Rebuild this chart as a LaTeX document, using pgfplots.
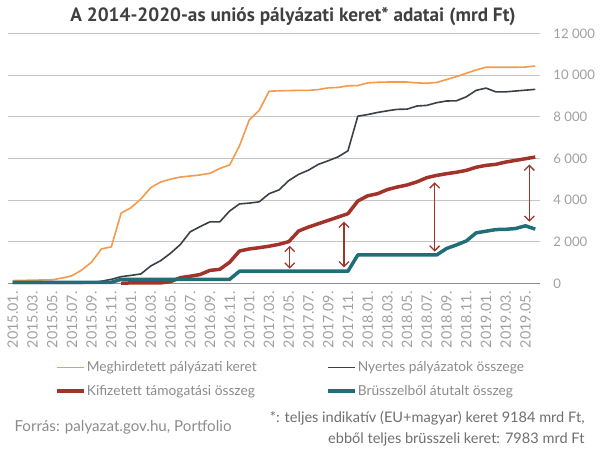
\documentclass[border=0pt]{standalone}
\usepackage{pgfplots}
\pgfplotsset{compat=1.18}
\usepackage{pgfplotstable}
\usetikzlibrary{arrows.meta}
\usepackage{fontspec}
\setmainfont{Lato}
\newfontfamily\titlefont{PT Sans}
\definecolor{cOrange}{HTML}{F5994A}
\definecolor{cDark}{HTML}{3B3F48}
\definecolor{cRed}{HTML}{A3322A}
\definecolor{cTeal}{HTML}{1F6E78}
\definecolor{cGrid}{HTML}{C4C4C4}
\definecolor{cAxis}{HTML}{8C8C8C}
\definecolor{cTick}{HTML}{A0A0A0}
\definecolor{cText}{HTML}{8C8C8C}
\definecolor{cTitle}{HTML}{404040}
\definecolor{cNote}{HTML}{6E6E6E}

\pgfplotstableread{
i meg nyer
0 130 0
1 140 0
2 150 0
3 160 0
4 170 0
5 250 0
6 360 0
7 640 0
8 1020 30
9 1650 100
10 1750 190
11 3370 320
12 3630 380
13 4050 450
14 4590 830
15 4860 1085
16 5000 1440
17 5100 1860
18 5150 2470
19 5200 2720
20 5280 2950
21 5510 2950
22 5680 3470
23 6600 3810
24 7850 3850
25 8300 3910
26 9220 4300
27 9240 4480
28 9250 4930
29 9260 5230
30 9260 5430
31 9300 5710
32 9380 5880
33 9400 6070
34 9480 6360
35 9490 8020
36 9620 8100
37 9650 8200
38 9660 8280
39 9660 8350
40 9660 8360
41 9620 8510
42 9600 8540
43 9640 8670
44 9780 8750
45 9920 8760
46 10080 8950
47 10240 9260
48 10370 9370
49 10370 9190
50 10370 9190
51 10370 9230
52 10380 9270
53 10430 9310
}\tabA

\pgfplotstableread{
i kif
11 0
12 20
13 20
14 20
15 20
16 80
17 270
18 340
19 420
20 620
21 670
22 1010
23 1550
24 1650
25 1710
26 1780
27 1870
28 2000
29 2510
30 2700
31 2860
32 3020
33 3180
34 3340
35 3950
36 4200
37 4300
38 4500
39 4620
40 4720
41 4870
42 5070
43 5180
44 5260
45 5330
46 5420
47 5570
48 5660
49 5710
50 5820
51 5900
52 5980
53 6060
}\tabB

\pgfplotstableread{
i bru
0 50
1 50
2 50
3 50
4 50
5 50
6 50
7 50
8 50
9 50
10 50
11 190
12 190
13 190
14 190
15 190
16 190
17 190
18 190
19 190
20 190
21 190
22 190
23 580
24 580
25 580
26 580
27 580
28 580
29 580
30 580
31 580
32 580
33 580
34 580
35 1360
36 1360
37 1360
38 1360
39 1360
40 1360
41 1360
42 1360
43 1360
44 1670
45 1840
46 2030
47 2420
48 2500
49 2580
50 2590
51 2630
52 2760
53 2600
}\tabC

\tikzset{dbl/.style={cRed, line width=1.3bp, arrows={Straight Barb[length=5bp,width=10bp]-Straight Barb[length=5bp,width=10bp]}}}

\begin{document}
\begin{tikzpicture}
\path[use as bounding box] (0,0) rectangle (607bp,452bp);
\node[font=\titlefont\bfseries\fontsize{19.3}{22}\selectfont, text=cTitle] at (293bp,435bp) {A 2014-2020-as uniós pályázati keret* adatai (mrd Ft)};
\begin{axis}[
  at={(7.8bp,168.7bp)}, anchor=south west,
  scale only axis, width=532.4bp, height=250bp,
  xmin=-0.5, xmax=53.5, ymin=0, ymax=12000,
  clip=false,
  scaled y ticks=false,
  axis x line*=bottom, axis y line*=right,
  y axis line style={draw=none},
  x axis line style={draw=cAxis, line width=1bp},
  major tick length=0pt,
  ytick={0,2000,...,12000},
  ymajorgrids, grid style={cGrid, line width=0.8bp},
  /pgf/number format/.cd, 1000 sep={\ }, assume math mode=true, /pgfplots/.cd,
  yticklabel style={font=\fontsize{13.2}{15}\selectfont, text=cTick, anchor=west, inner sep=0pt, xshift=13bp},
  xtick={0,2,...,52},
  xticklabels={2015.01.,2015.03.,2015.05.,2015.07.,2015.09.,2015.11.,2016.01.,2016.03.,2016.05.,2016.07.,2016.09.,2016.11.,2017.01.,2017.03.,2017.05.,2017.07.,2017.09.,2017.11.,2018.01.,2018.03.,2018.05.,2018.07.,2018.09.,2018.11.,2019.01.,2019.03.,2019.05.},
  xticklabel style={font=\fontsize{14.4}{16}\selectfont, text=cTick, yshift=-8bp, rotate=90, anchor=east, inner sep=0pt},
  legend columns=2,
  legend cell align=left,
  legend image code/.code={\draw[#1] (0bp,0bp) -- (27bp,0bp);},
  legend style={at={(axis description cs:0.0887,-0.305)}, anchor=north west, draw=none, fill=none, inner sep=0pt,
    font=\fontsize{13.8}{15}\selectfont, text=cText, row sep=8bp,
    nodes={inner xsep=1.2bp}},
]
\addplot[cOrange, line width=1.6bp, line join=round] table[x=i, y=meg] {\tabA};
\addlegendentry{\makebox[238bp][l]{Meghirdetett pályázati keret}}
\addplot[cDark, line width=1.6bp, line join=round] table[x=i, y=nyer] {\tabA};
\addlegendentry{Nyertes pályázatok összege}
\addplot[cRed, line width=3.5bp, line join=round] table[x=i, y=kif] {\tabB};
\addlegendentry{\makebox[238bp][l]{Kifizetett támogatási összeg}}
\addplot[cTeal, line width=3.5bp, line join=round] table[x=i, y=bru] {\tabC};
\addlegendentry{Brüsszelből átutalt összeg}
\addplot[dbl, forget plot] coordinates {(28.1,700) (28.1,1800)};
\addplot[dbl, forget plot] coordinates {(33.6,760) (33.6,2960)};
\addplot[dbl, forget plot] coordinates {(42.8,1520) (42.8,4850)};
\addplot[dbl, forget plot] coordinates {(52.4,2950) (52.4,5700)};
\end{axis}
\node[anchor=west, font=\fontsize{15.2}{17}\selectfont, text=cText] at (11bp,25bp) {Forrás: palyazat.gov.hu, Portfolio};
\node[anchor=east, font=\fontsize{14.6}{17}\selectfont, text=cNote] at (588bp,34bp) {*: teljes indikatív (EU+magyar) keret 9184 mrd Ft,};
\node[anchor=east, font=\fontsize{14.6}{17}\selectfont, text=cNote] at (588bp,13bp) {ebből teljes brüsszeli keret: 7983 mrd Ft};
\end{tikzpicture}
\end{document}
